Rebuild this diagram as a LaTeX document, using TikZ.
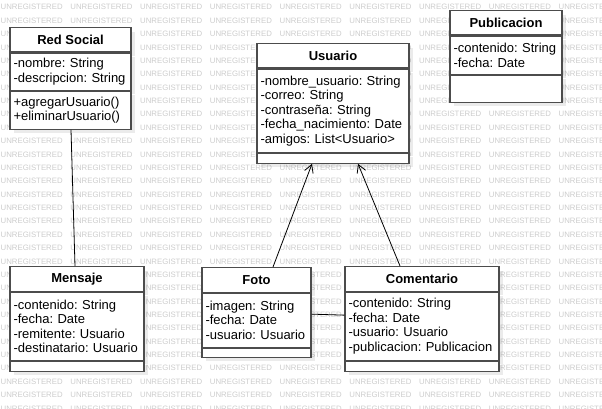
\documentclass[tikz,border=0pt]{standalone}
\usepackage{fontspec}
\setmainfont{Liberation Sans}
\frenchspacing
\usetikzlibrary{positioning,shadows,arrows.meta}

\begin{document}
\begin{tikzpicture}[x=1pt,y=-1pt,
    umlshadow/.style={drop shadow={shadow xshift=4pt,shadow yshift=-4pt,fill=black,opacity=0.08}},
    head/.style={draw=black!70,line width=1.1pt,fill=white,umlshadow,
      minimum height=24.5pt,inner sep=0pt,anchor=north,
      font=\fontsize{13}{14.5}\selectfont\bfseries},
    body/.style={draw=black!70,line width=1.1pt,fill=white,umlshadow,
      align=left,inner xsep=3.5pt,inner ysep=3pt,
      font=\fontsize{13}{14.5}\selectfont\frenchspacing},
    wmark/.style={text=black!20,inner sep=0pt,anchor=west,
      font=\fontsize{7.8}{8}\selectfont},
    assoc/.style={draw=black,line width=0.8pt},
    gen/.style={assoc,-{Straight Barb[length=8pt,width=9pt]}}]
    \useasboundingbox (0,0) rectangle (602,409);

    % watermark
    \foreach \row in {0,...,30}
      \foreach \col in {0,...,8}
        \node[wmark] (w\row-\col) at (0.5+69.75*\col,7.3+13.37*\row) {UNREGISTERED};

    % classes
    \node[head,minimum width=121pt] (rs) at (70.5,27) {Red Social};
    \node[body,text width=114pt,minimum height=37pt,below=0pt of rs] (rsattr)
      {-nombre: String\\-descripcion: String};
    \node[body,text width=114pt,minimum height=38pt,below=0pt of rsattr] (rsops)
      {+agregarUsuario()\\+eliminarUsuario()};

    \node[head,minimum width=152pt] (usr) at (333,43) {Usuario};
    \node[body,text width=145pt,minimum height=83pt,below=0pt of usr] (usrattr)
      {-nombre\_usuario: String\\-correo: String\\-contraseña: String\\-fecha\_nacimiento: Date\\-amigos: List<Usuario>};
    \node[body,text width=145pt,minimum height=10pt,below=0pt of usrattr] (usrops) {};

    \node[head,minimum width=112pt] (pub) at (506,10) {Publicacion};
    \node[body,text width=105pt,minimum height=38pt,below=0pt of pub] (pubattr)
      {-contenido: String\\-fecha: Date};
    \node[body,text width=105pt,minimum height=27pt,below=0pt of pubattr] (pubops) {};

    \node[head,minimum width=134pt] (msg) at (77,266) {Mensaje};
    \node[body,text width=127pt,minimum height=68pt,below=0pt of msg] (msgattr)
      {-contenido: String\\-fecha: Date\\-remitente: Usuario\\-destinatario: Usuario};
    \node[body,text width=127pt,minimum height=10pt,below=0pt of msgattr] (msgops) {};

    \node[head,minimum width=109pt] (foto) at (256.5,267) {Foto};
    \node[body,text width=102pt,minimum height=54pt,below=0pt of foto] (fotoattr)
      {-imagen: String\\-fecha: Date\\-usuario: Usuario};
    \node[body,text width=102pt,minimum height=9pt,below=0pt of fotoattr] (fotoops) {};

    \node[head,minimum width=154pt] (com) at (422,266) {Comentario};
    \node[body,text width=147pt,minimum height=68pt,below=0pt of com] (comattr)
      {-contenido: String\\-fecha: Date\\-usuario: Usuario\\-publicacion: Publicacion};
    \node[body,text width=147pt,minimum height=10pt,below=0pt of comattr] (comops) {};

    % relations
    \draw[assoc] ([xshift=0.5pt]rsops.south) -- ([xshift=-2pt]msg.north);
    \draw[gen] ([xshift=16.5pt]foto.north) -- ([xshift=-21pt]usrops.south);
    \draw[gen] ([xshift=-22pt]com.north) -- ([xshift=25pt]usrops.south);
    \draw[assoc] ([yshift=6pt]fotoattr.east) -- ([yshift=11pt]comattr.west);
\end{tikzpicture}
\end{document}
